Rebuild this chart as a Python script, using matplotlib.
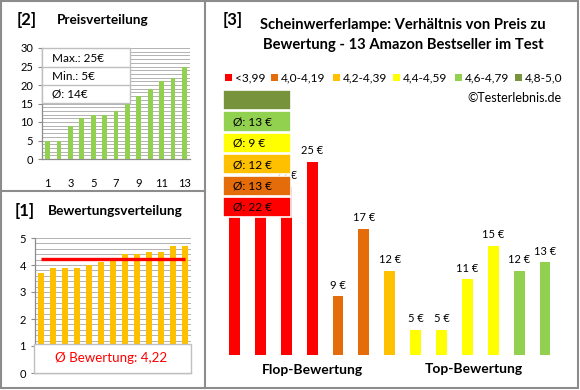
import math
import matplotlib
matplotlib.use('Agg')
import matplotlib.pyplot as plt
from matplotlib.patches import Rectangle
from matplotlib.lines import Line2D
from matplotlib.transforms import blended_transform_factory

plt.rcParams['font.family'] = ['Lato', 'DejaVu Sans']

# ---------------- data ----------------
price_sorted = [5, 5, 9, 11, 12, 12, 13, 15, 17, 19, 21, 22, 25]
ratings = [3.7, 3.9, 3.9, 3.9, 4.0, 4.1, 4.2, 4.4, 4.4, 4.5, 4.5, 4.7, 4.7]
prices = [19, 21, 22, 25, 9, 17, 12, 5, 5, 11, 15, 12, 13]
class_labels = ['<3,99', '4,0-4,19', '4,2-4,39', '4,4-4,59', '4,6-4,79', '4,8-5,0']
class_lows = [0.0, 4.0, 4.2, 4.4, 4.6, 4.8]
class_colors = ['#FF0000', '#E46C0A', '#FFC000', '#FFFF00', '#92D050', '#77933C']
group_labels = ['Flop-Bewertung', 'Top-Bewertung']

W, H = 580, 390
fig = plt.figure(figsize=(5.8, 3.9), dpi=100)
tf = fig.transFigure


def fx(x):
    return x / W


def fy(y):
    return 1 - y / H


def rect_px(x0, y0, x1, y1, **kw):
    r = Rectangle((fx(x0), fy(y1)), fx(x1) - fx(x0), fy(y0) - fy(y1),
                  transform=tf, **kw)
    fig.add_artist(r)
    return r


def line_px(x0, y0, x1, y1, **kw):
    fig.add_artist(Line2D([fx(x0), fx(x1)], [fy(y0), fy(y1)], transform=tf, **kw))


def text_px(x, y, s, **kw):
    fig.text(fx(x), fy(y), s, **kw)


def rnd(v):
    return int(math.floor(v + 0.5))


GRID = '#A6A6A6'
FRAME = '#8C8C8C'
TXT = '#000000'

# ---------------- frame ----------------
rect_px(1, 1, 578, 388, fill=False, edgecolor=FRAME, lw=1.5, zorder=10)
line_px(205, 1, 205, 388, color=FRAME, lw=1.5, zorder=10)
line_px(1, 191, 205, 191, color=FRAME, lw=1.5, zorder=10)


def style_axis(ax):
    for s in ['top', 'right']:
        ax.spines[s].set_visible(False)
    for s in ['left', 'bottom']:
        ax.spines[s].set_color(FRAME)
        ax.spines[s].set_linewidth(0.9)
    ax.set_axisbelow(True)
    ax.tick_params(axis='both', which='major', labelsize=8, colors=FRAME,
                   labelcolor=TXT, length=3, width=0.8)
    ax.tick_params(axis='both', which='minor', length=0)


# ---------------- [2] Preisverteilung ----------------
ax1 = fig.add_axes([fx(42), fy(159), (190 - 42) / W, (159 - 48) / H])
x13 = list(range(1, len(price_sorted) + 1))
ax1.bar(x13, price_sorted, width=0.42, color='#92D050', zorder=3)
ax1.set_xlim(0.5, 13.5)
ax1.set_ylim(0, 30)
ax1.set_yticks(range(0, 31, 5))
ax1.set_yticks(range(0, 31), minor=True)
ax1.grid(axis='y', which='both', color=GRID, lw=0.6)
ax1.set_xticks(range(1, 14, 2))
style_axis(ax1)
ax1.tick_params(axis='x', length=0, pad=14)

text_px(17, 20, '[2]', fontsize=12, fontweight='bold', va='center', ha='left')
text_px(57, 20, 'Preisverteilung', fontsize=9.8, fontweight='bold', va='center', ha='left')

rect_px(42, 48, 130, 103, facecolor='white', edgecolor='#BFBFBF', lw=1, zorder=5)
line_px(42, 67, 130, 67, color='#BFBFBF', lw=1, zorder=6)
line_px(42, 84.5, 130, 84.5, color='#BFBFBF', lw=1, zorder=6)
pmax, pmin = max(price_sorted), min(price_sorted)
pavg = rnd(sum(price_sorted) / len(price_sorted))
text_px(52, 58, f'Max.: {pmax}€', fontsize=8.5, va='center', zorder=7)
text_px(52, 76, f'Min.: {pmin}€', fontsize=8.5, va='center', zorder=7)
text_px(52, 94, f'Ø: {pavg}€', fontsize=8.5, va='center', zorder=7)

# ---------------- [1] Bewertungsverteilung ----------------
ax2 = fig.add_axes([fx(35), fy(373), (191 - 35) / W, (373 - 238) / H])
ax2.bar(x13, ratings, width=0.42, color='#FFC000', zorder=3)
ravg = sum(ratings) / len(ratings)
ax2.plot([1, 13], [ravg, ravg], color='#FF0000', lw=2.4, zorder=4,
         solid_capstyle='butt')
ax2.set_xlim(0.5, 13.5)
ax2.set_ylim(0, 5)
ax2.set_yticks(range(0, 6))
ax2.set_yticks([i * 0.2 for i in range(26)], minor=True)
ax2.grid(axis='y', which='both', color=GRID, lw=0.6)
ax2.set_xticks([])
style_axis(ax2)

text_px(15, 211, '[1]', fontsize=12, fontweight='bold', va='center', ha='left')
text_px(48, 211, 'Bewertungsverteilung', fontsize=9.8, fontweight='bold',
        va='center', ha='left')

rect_px(34, 344, 191, 373, facecolor='white', edgecolor='#BFBFBF', lw=1, zorder=5)
text_px(111, 358.5, 'Ø Bewertung: ' + f'{ravg:.2f}'.replace('.', ','),
        fontsize=9.6, color='#FF0000', ha='center', va='center', zorder=7)

# ---------------- [3] Preis zu Bewertung ----------------
def cls(r):
    idx = 0
    for i, lo in enumerate(class_lows):
        if r >= lo - 1e-9:
            idx = i
    return idx


classes = [cls(r) for r in ratings]
bar_colors = [class_colors[c] for c in classes]

ax3 = fig.add_axes([fx(221.6), fy(355), 336.4 / W, 265 / H])
ax3.bar(x13, prices, width=0.42, color=bar_colors, zorder=2)
ax3.set_xlim(0.5, 13.5)
ax3.set_ylim(2, 33.5)
ax3.axis('off')
for xi, p in zip(x13, prices):
    ax3.annotate(f'{p} €', (xi, p), xytext=(0, 4), textcoords='offset points',
                 ha='center', va='bottom', fontsize=8, annotation_clip=False)

bt = blended_transform_factory(ax3.transData, tf)
ax3.text(4, fy(370), group_labels[0], transform=bt, ha='center', va='center',
         fontsize=10, fontweight='bold')
ax3.text(10.25, fy(369), group_labels[1], transform=bt, ha='center', va='center',
         fontsize=10, fontweight='bold')

text_px(223, 20, '[3]', fontsize=12, fontweight='bold', va='center', ha='left')
text_px(403, 25, 'Scheinwerferlampe: Verhältnis von Preis zu', fontsize=10.6,
        fontweight='bold', ha='center', va='center')
text_px(403, 45, 'Bewertung - 13 Amazon Bestseller im Test', fontsize=10.6,
        fontweight='bold', ha='center', va='center')

# legend row
sq_x = [225, 271, 333, 393, 455, 515]
for sx, lab, col in zip(sq_x, class_labels, class_colors):
    rect_px(sx, 73.5, sx + 7, 80.5, facecolor=col, edgecolor='none', zorder=5)
    text_px(sx + 9.5, 77.5, lab, fontsize=8.6, va='center', ha='left')

text_px(562, 98, '©Testerlebnis.de', fontsize=9, va='center', ha='right')

# stacked average boxes (top: best class)
for k, c in enumerate(reversed(range(len(class_colors)))):
    top = 90 + 21.4 * k
    rect_px(223, top, 291, top + 20.2, facecolor=class_colors[c],
            edgecolor='white', lw=1.2, zorder=5)
    members = [p for p, cc in zip(prices, classes) if cc == c]
    if members:
        a = rnd(sum(members) / len(members))
        text_px(233, top + 10.3, f'Ø: {a} €', fontsize=8.6, va='center',
                ha='left', zorder=7)

fig.savefig('out.png', dpi=100)
